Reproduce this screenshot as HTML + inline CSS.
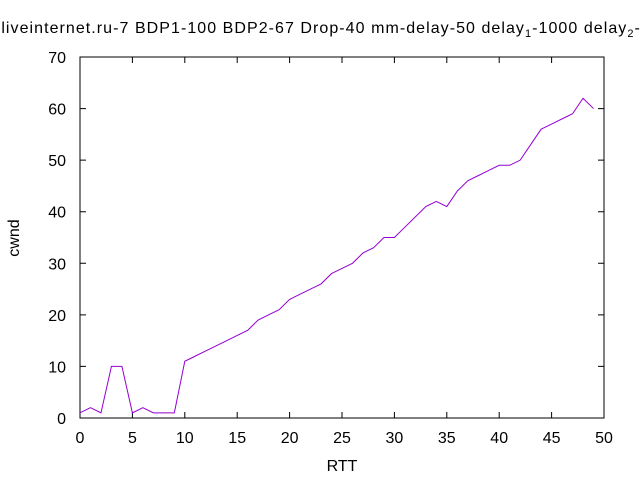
<!DOCTYPE html>
<html><head><meta charset="utf-8"><style>body{margin:0;background:#fff}svg{display:block;font-family:"Liberation Sans",sans-serif}</style></head>
<body>
<svg id="chart" width="640" height="480" viewBox="0 0 640 480">
<rect width="640" height="480" fill="#fff"/>
<text x="341" y="33" font-size="16" letter-spacing="1.05" text-anchor="middle" fill="#000">liveinternet.ru-7 BDP1-100 BDP2-67 Drop-40 mm-delay-50 delay<tspan font-size="11" dy="4">1</tspan><tspan dy="-4">-1000 delay</tspan><tspan font-size="11" dy="4">2</tspan><tspan dy="-4">-1000</tspan></text>
<rect x="80" y="57" width="524" height="361" fill="none" stroke="#000" stroke-width="1"/>
<g id="axes"></g>
<text x="342" y="471" font-size="16" text-anchor="middle">RTT</text>
<text x="19" y="238" font-size="16" text-anchor="middle" transform="rotate(-90 19 238)">cwnd</text>
<polyline id="series" fill="none" stroke="#9400d3" stroke-width="1"/>
</svg>
<script>
const xTicks=[0,5,10,15,20,25,30,35,40,45,50];
const yTicks=[0,10,20,30,40,50,60,70];
const rtt=[0,1,2,3,4,5,6,7,8,9,10,11,12,13,14,15,16,17,18,19,20,21,22,23,24,25,26,27,28,29,30,31,32,33,34,35,36,37,38,39,40,41,42,43,44,45,46,47,48,49];
const cwnd=[1,2,1,10,10,1,2,1,1,1,11,12,13,14,15,16,17,19,20,21,23,24,25,26,28,29,30,32,33,35,35,37,39,41,42,41,44,46,47,48,49,49,50,53,56,57,58,59,62,60];
const X=v=>80+v*524/50, Y=v=>418-v*361/70;
const g=document.getElementById('axes'),ns='http://www.w3.org/2000/svg';
function mk(t,a){const e=document.createElementNS(ns,t);for(const k in a)e.setAttribute(k,a[k]);g.appendChild(e);return e;}
xTicks.forEach(v=>{const x=X(v);
const l=mk('path',{d:`M${x},418v-6M${x},57v6`,stroke:'#000'});


const t=mk('text',{x:x,y:443,'font-size':16,'text-anchor':'middle'});t.textContent=v;

});
yTicks.forEach(v=>{const y=Y(v);
const l=mk('path',{d:`M80,${y}h6M604,${y}h-6`,stroke:'#000'});


const t=mk('text',{x:66,y:y+6,'font-size':16,'text-anchor':'end'});t.textContent=v;

});
document.getElementById('series').setAttribute('points',rtt.map((r,i)=>X(r)+','+Y(cwnd[i])).join(' '));
</script>
</body></html>
